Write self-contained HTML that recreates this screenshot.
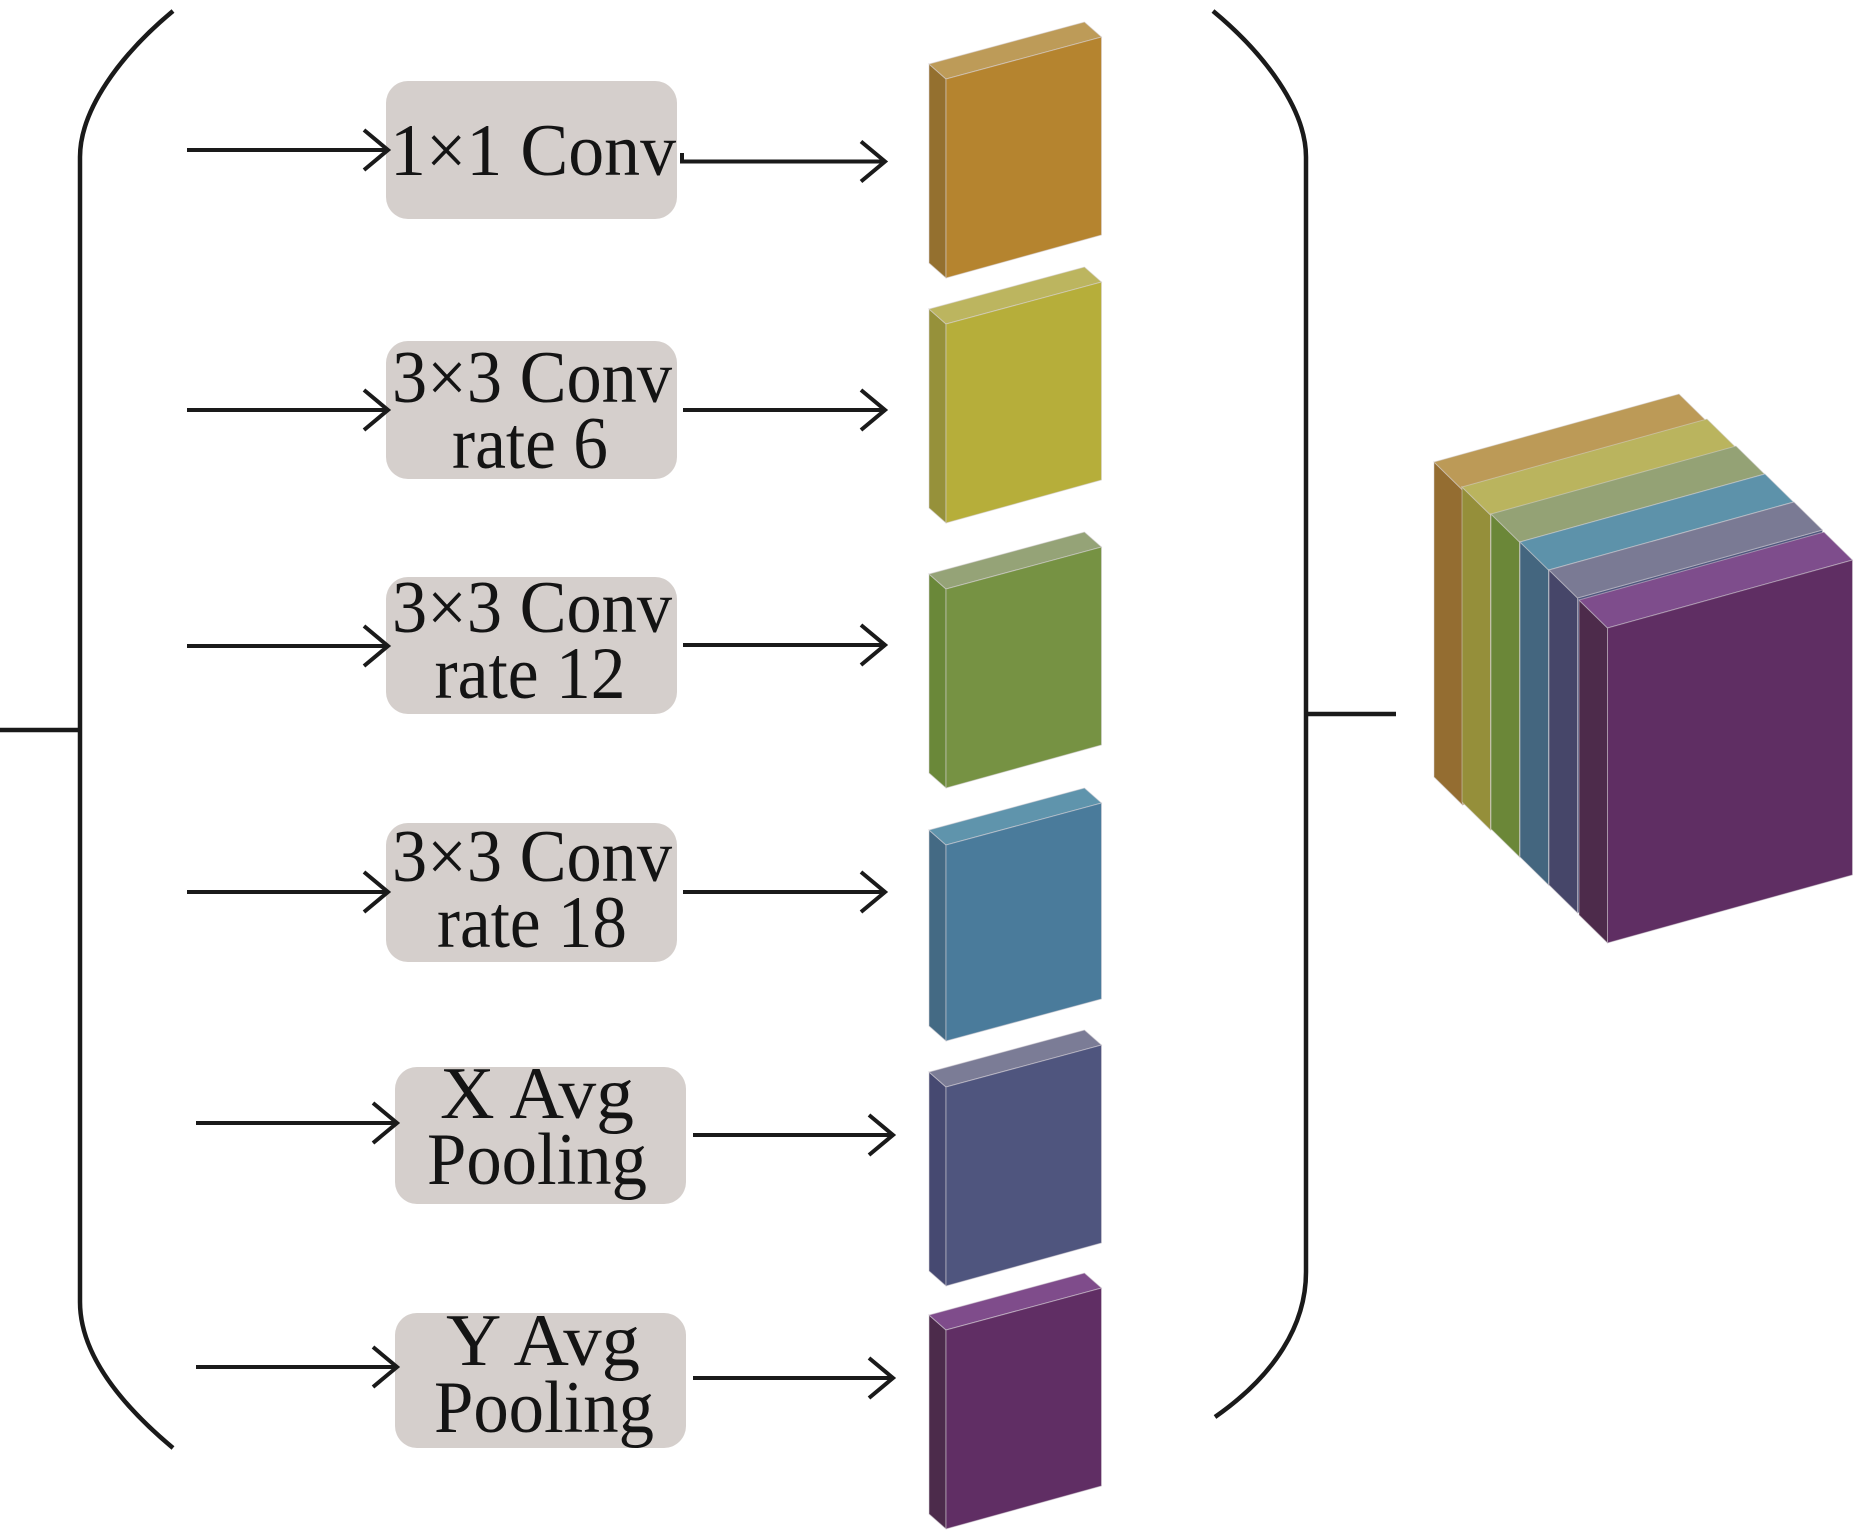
<!DOCTYPE html>
<html>
<head>
<meta charset="utf-8">
<style>
html,body{margin:0;padding:0;background:#fff;}
svg{display:block;}
text{font-family:"Liberation Serif","Times New Roman",serif;font-size:74px;fill:#141414;text-anchor:middle;}
</style>
</head>
<body>
<svg width="1866" height="1537" viewBox="0 0 1866 1537" xmlns="http://www.w3.org/2000/svg">
<rect width="1866" height="1537" fill="#fff"/>

<!-- Left bracket -->
<g fill="none" stroke="#1a1a1a" stroke-width="4.5" stroke-linecap="butt">
  <path d="M173,11 C120,55 80,110 80,157 L80,1302 C80,1352 118,1402 173,1448"/>
  <path d="M0,730 H80"/>
  <!-- Right bracket -->
  <path d="M1213,11 C1266,55 1306,110 1306,157 L1306,1272 C1306,1325 1275,1375 1215,1417"/>
  <path d="M1306,714 H1396"/>
</g>

<!-- Boxes -->
<g fill="#d5cfcc">
  <rect x="386" y="81" width="291" height="138" rx="22"/>
  <rect x="386" y="341" width="291" height="138" rx="22"/>
  <rect x="386" y="577" width="291" height="137" rx="22"/>
  <rect x="386" y="823" width="291" height="139" rx="22"/>
  <rect x="395" y="1067" width="291" height="137" rx="22"/>
  <rect x="395" y="1313" width="291" height="135" rx="22"/>
</g>

<!-- Labels -->
<text x="533" y="175" textLength="286" lengthAdjust="spacingAndGlyphs">1×1 Conv</text>
<text x="532" y="402" textLength="280" lengthAdjust="spacingAndGlyphs">3×3 Conv</text>
<text x="530" y="468" textLength="156" lengthAdjust="spacingAndGlyphs">rate 6</text>
<text x="532" y="632" textLength="280" lengthAdjust="spacingAndGlyphs">3×3 Conv</text>
<text x="530" y="698" textLength="191" lengthAdjust="spacingAndGlyphs">rate 12</text>
<text x="532" y="881" textLength="280" lengthAdjust="spacingAndGlyphs">3×3 Conv</text>
<text x="532" y="947" textLength="190" lengthAdjust="spacingAndGlyphs">rate 18</text>
<text x="537" y="1118" textLength="194" lengthAdjust="spacingAndGlyphs">X Avg</text>
<text x="537" y="1184" textLength="220" lengthAdjust="spacingAndGlyphs">Pooling</text>
<text x="543" y="1365" textLength="194" lengthAdjust="spacingAndGlyphs">Y Avg</text>
<text x="544" y="1432" textLength="220" lengthAdjust="spacingAndGlyphs">Pooling</text>

<!-- Arrows -->
<g fill="none" stroke="#1a1a1a" stroke-width="4" stroke-linejoin="miter">
  <!-- row 1 -->
  <path d="M187,150 H386"/><path d="M364,130 L388,150 L364,170"/>
  <path d="M682,153 V161.5 H884"/><path d="M861,141.5 L885,161.5 L861,181.5"/>
  <!-- row 2 -->
  <path d="M187,410 H386"/><path d="M364,390 L388,410 L364,430"/>
  <path d="M683,410 H884"/><path d="M861,390 L885,410 L861,430"/>
  <!-- row 3 -->
  <path d="M187,646 H386"/><path d="M364,626 L388,646 L364,666"/>
  <path d="M683,645 H884"/><path d="M861,625 L885,645 L861,665"/>
  <!-- row 4 -->
  <path d="M187,892 H386"/><path d="M364,872 L388,892 L364,912"/>
  <path d="M683,892 H884"/><path d="M861,872 L885,892 L861,912"/>
  <!-- row 5 -->
  <path d="M196,1123 H395"/><path d="M373,1103 L397,1123 L373,1143"/>
  <path d="M693,1135 H892"/><path d="M869,1115 L893,1135 L869,1155"/>
  <!-- row 6 -->
  <path d="M196,1367 H395"/><path d="M373,1347 L397,1367 L373,1387"/>
  <path d="M693,1378 H892"/><path d="M869,1358 L893,1378 L869,1398"/>
</g>

<!-- Column blocks -->
<g stroke="#d8d4d8" stroke-opacity="0.55" stroke-width="1">
  <!-- orange -->
  <polygon points="929,64 946,79 946,278 929,263" fill="#94702f"/>
  <polygon points="929,64 1084.5,22 1101.5,37 946,79" fill="#bd9b58"/>
  <polygon points="946,79 1101.5,37 1101.5,235 946,278" fill="#b5842f"/>
  <!-- yellow -->
  <polygon points="929,309 946,324 946,523 929,508" fill="#96913a"/>
  <polygon points="929,309 1084.5,267 1101.5,282 946,324" fill="#bcb55f"/>
  <polygon points="946,324 1101.5,282 1101.5,480 946,523" fill="#b6ae3a"/>
  <!-- green -->
  <polygon points="929,574 946,589 946,788 929,773" fill="#6a8839"/>
  <polygon points="929,574 1084.5,532 1101.5,547 946,589" fill="#95a377"/>
  <polygon points="946,589 1101.5,547 1101.5,745 946,788" fill="#769243"/>
  <!-- blue -->
  <polygon points="929,830 946,845 946,1041 929,1026" fill="#446a84"/>
  <polygon points="929,830 1084.5,788 1101.5,803 946,845" fill="#5f94ac"/>
  <polygon points="946,845 1101.5,803 1101.5,999 946,1041" fill="#4a7b9b"/>
  <!-- indigo -->
  <polygon points="929,1072 946,1087 946,1286 929,1271" fill="#464971"/>
  <polygon points="929,1072 1084.5,1030 1101.5,1045 946,1087" fill="#7b7c96"/>
  <polygon points="946,1087 1101.5,1045 1101.5,1243 946,1286" fill="#4f557e"/>
  <!-- purple -->
  <polygon points="929,1315 946,1330 946,1529 929,1514" fill="#4c2b4b"/>
  <polygon points="929,1315 1084.5,1273 1101.5,1288 946,1330" fill="#7f4c8b"/>
  <polygon points="946,1330 1101.5,1288 1101.5,1486 946,1529" fill="#602e64"/>
</g>

<!-- Stacked cube -->
<g stroke="#d8d4d8" stroke-opacity="0.5" stroke-width="1">
  <!-- orange -->
  <polygon points="1462.5,490 1707.5,422 1707.5,737 1462.5,805" fill="#b5842f"/>
  <polygon points="1434,462 1462.5,490 1462.5,805 1434,777" fill="#946d31"/>
  <polygon points="1434,462 1679,394 1707.5,422 1462.5,490" fill="#bc9a57"/>
  <!-- yellow -->
  <polygon points="1490.5,515 1735.5,447 1735.5,762 1490.5,830" fill="#b6ae3a"/>
  <polygon points="1462,487 1490.5,515 1490.5,830 1462,802" fill="#958f3a"/>
  <polygon points="1462,487 1707,419 1735.5,447 1490.5,515" fill="#bab45e"/>
  <!-- green -->
  <polygon points="1519.5,542 1764.5,474 1764.5,789 1519.5,857" fill="#769243"/>
  <polygon points="1491,514 1519.5,542 1519.5,857 1491,829" fill="#6b8738"/>
  <polygon points="1491,514 1736,446 1764.5,474 1519.5,542" fill="#94a275"/>
  <!-- blue -->
  <polygon points="1548.5,570 1793.5,502 1793.5,817 1548.5,885" fill="#4a7b9b"/>
  <polygon points="1520,542 1548.5,570 1548.5,885 1520,857" fill="#44667f"/>
  <polygon points="1520,542 1765,474 1793.5,502 1548.5,570" fill="#5d92aa"/>
  <!-- indigo -->
  <polygon points="1577.5,598 1822.5,530 1822.5,845 1577.5,913" fill="#4f557e"/>
  <polygon points="1549,570 1577.5,598 1577.5,913 1549,885" fill="#464669"/>
  <polygon points="1549,570 1794,502 1822.5,530 1577.5,598" fill="#7a7a94"/>
  <!-- purple -->
  <polygon points="1579,600 1607.5,628 1607.5,943 1579,915" fill="#4d2b4b"/>
  <polygon points="1579,600 1824,532 1852.5,560 1607.5,628" fill="#7e4d8c"/>
  <polygon points="1607.5,628 1852.5,560 1852.5,875 1607.5,943" fill="#5f2e63"/>
</g>
</svg>
</body>
</html>
